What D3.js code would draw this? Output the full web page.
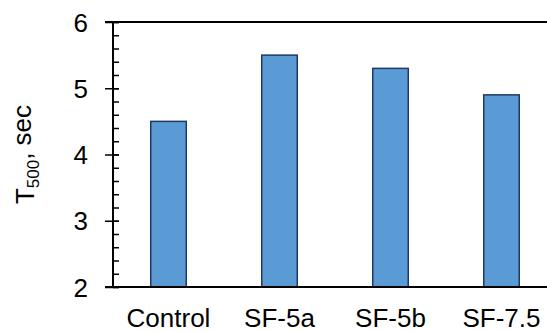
<!DOCTYPE html>
<html>
<head>
<meta charset="utf-8">
<script src="https://cdn.jsdelivr.net/npm/d3@7"></script>
<style>
  body { margin: 0; background: #fff; }
  svg text { font-family: Arial, "Liberation Sans", sans-serif; fill: #000; }
</style>
</head>
<body>
<svg id="chart" width="547" height="332"></svg>
<script>
"use strict";

// data
var categories = ["Control", "SF-5a", "SF-5b", "SF-7.5"];
var t500 = [4.5, 5.5, 5.3, 4.9];
var yTicks = [2, 3, 4, 5, 6];

(function(){
  let svg = d3.select("#chart"),
    plotLeft = 113, plotTop = 22, plotBottom = 287, plotRight = 557,
    x = d3.scaleBand().domain(categories).range([plotLeft, plotRight]).paddingInner(0.68).paddingOuter(0.34),
    y = d3.scaleLinear().domain([2, 6]).range([plotBottom, plotTop]);

  // bars
  svg.selectAll("rect.bar")
    .data(categories)
    .enter().append("rect")
    .attr("class", "bar")
    .attr("x", d => x(d))
    .attr("width", x.bandwidth())
    .attr("y", (d, i) => y(t500[i]))
    .attr("height", (d, i) => y(2) - y(t500[i]))
    .style("fill", "#5b9bd5")
    .style("stroke", "#1f3864")
    .style("stroke-width", 1.5);

  // minor ticks (inside)
  svg.append("g")
    .attr("transform", "translate(" + plotLeft + ",0)")
    .call(d3.axisRight(y).tickValues(d3.range(2, 6.01, 0.2)).tickSize(6).tickFormat(""))
    .call(g => g.select(".domain").remove())
    .selectAll("line").attr("stroke", "#000").attr("stroke-width", 1.5);

  // major ticks + labels
  let ya = svg.append("g")
    .attr("transform", "translate(" + plotLeft + ",0)")
    .call(d3.axisLeft(y).tickValues(yTicks).tickSize(8).tickPadding(17).tickFormat(d3.format("d")));
  ya.select(".domain").remove();
  ya.selectAll("line").attr("x2", 6).attr("x1", -8).attr("stroke", "#000").attr("stroke-width", 1.5);
  ya.selectAll("text").style("font-size", "26px").attr("dy", "0.35em");

  // axis lines
  svg.append("line").attr("x1", plotLeft).attr("x2", plotLeft).attr("y1", plotTop).attr("y2", plotBottom)
    .attr("stroke", "#000").attr("stroke-width", 2);
  svg.append("line").attr("x1", plotLeft - 8).attr("x2", 547).attr("y1", plotBottom).attr("y2", plotBottom)
    .attr("stroke", "#000").attr("stroke-width", 2);
  svg.append("line").attr("x1", plotLeft - 8).attr("x2", 547).attr("y1", plotTop).attr("y2", plotTop)
    .attr("stroke", "#000").attr("stroke-width", 2);

  // x labels
  svg.selectAll("text.xlab")
    .data(categories)
    .enter().append("text")
    .attr("class", "xlab")
    .attr("x", d => x(d) + x.bandwidth() / 2)
    .attr("y", 327)
    .attr("text-anchor", "middle")
    .style("font-size", "26px")
    .text(d => d);

  // y title
  let yt = svg.append("text")
    .attr("transform", "translate(34," + ((plotTop + plotBottom) / 2) + ") rotate(-90)")
    .attr("text-anchor", "middle")
    .style("font-size", "26px");
  yt.append("tspan").text("T");
  yt.append("tspan").attr("dy", "0.3em").style("font-size", "17px").text("500");
  yt.append("tspan").attr("dy", "-0.3em").text(", sec");
})();
</script>
</body>
</html>
